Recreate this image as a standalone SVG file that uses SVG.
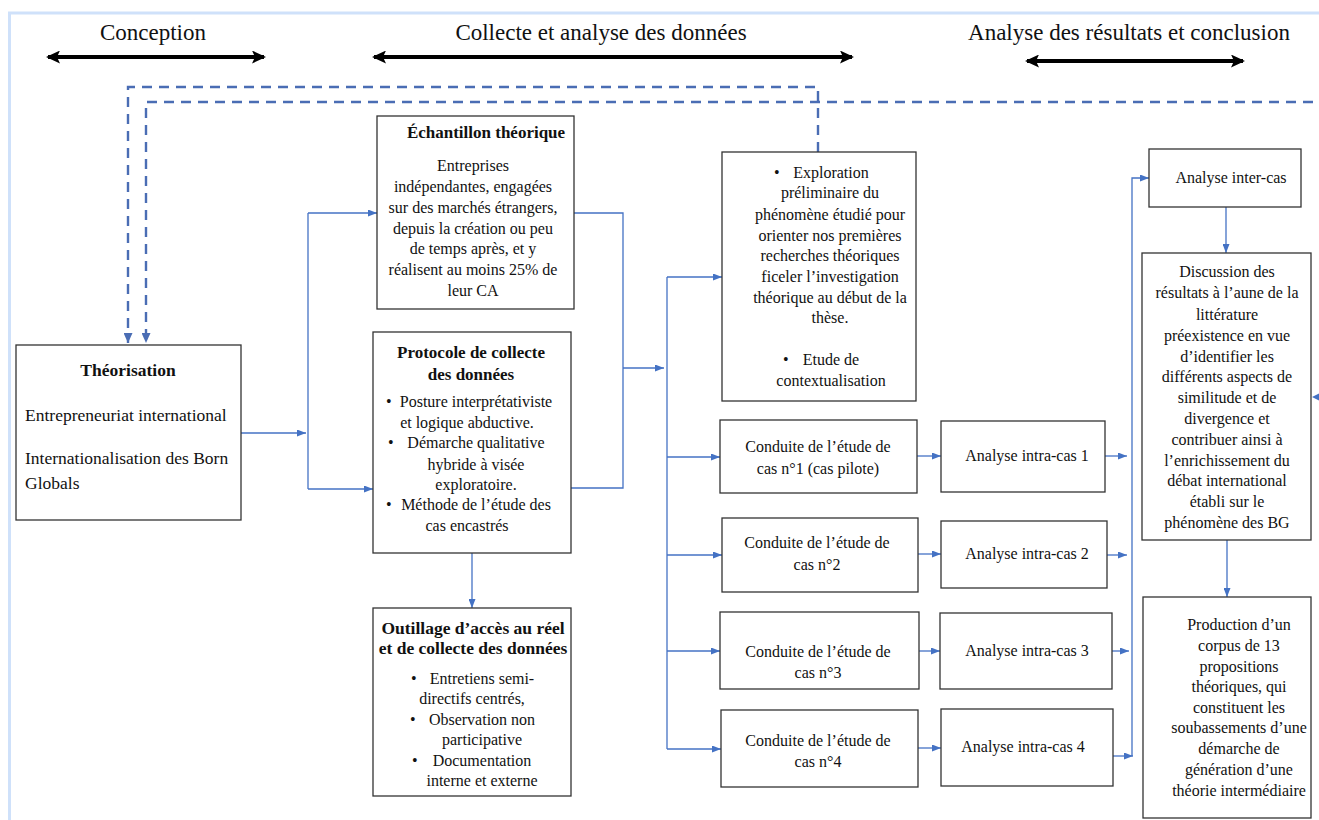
<svg xmlns="http://www.w3.org/2000/svg" width="1319" height="820" viewBox="0 0 1319 820">
<style>
text{font-family:"Liberation Serif","Times New Roman",serif;fill:#111;}
.h{font-size:23px;text-anchor:middle;}
.t{font-size:16px;text-anchor:middle;}
.l{font-size:17.5px;}
.b{font-size:17px;font-weight:bold;text-anchor:middle;}
.bul{font-size:16px;}
.box{fill:#fff;stroke:#333;stroke-width:1.3;}
.c{fill:none;stroke:#4472c4;stroke-width:1.3;marker-end:url(#a);}
.cn{fill:none;stroke:#4472c4;stroke-width:1.3;}
.d{fill:none;stroke:#4a6db4;stroke-width:2.4;stroke-dasharray:10 7;marker-end:url(#ad);}
.bk{stroke:#000;stroke-width:4;marker-start:url(#ab);marker-end:url(#ab);}
</style>
<defs>
<marker id="a" markerUnits="userSpaceOnUse" markerWidth="9" markerHeight="7" refX="9" refY="3.5" orient="auto"><path d="M0,0 L9,3.5 L0,7 Z" fill="#4472c4"/></marker>
<marker id="ad" markerUnits="userSpaceOnUse" markerWidth="10" markerHeight="9" refX="10" refY="4.5" orient="auto"><path d="M0,0 L10,4.5 L0,9 Z" fill="#4a6db4"/></marker>
<marker id="ab" markerUnits="userSpaceOnUse" markerWidth="14" markerHeight="13" refX="12" refY="6.5" orient="auto-start-reverse"><path d="M0,0 L14,6.5 L0,13 L3,6.5 Z" fill="#000"/></marker>
</defs>
<rect x="0" y="0" width="1319" height="820" fill="#fff"/>
<rect x="9.5" y="13" width="1400" height="900" fill="none" stroke="#cfe1fa" stroke-width="3"/>

<g id="header">
<text class="h" x="153" y="40">Conception</text>
<text class="h" x="601" y="40">Collecte et analyse des données</text>
<text class="h" x="1129" y="40">Analyse des résultats et conclusion</text>
<line class="bk" x1="48" y1="57" x2="264" y2="57"/>
<line class="bk" x1="374" y1="57" x2="852" y2="57"/>
<line class="bk" x1="1027" y1="61" x2="1243" y2="61"/>
</g>

<g id="connectors">
<path class="d" d="M818,152 V87 H128 V343"/>
<path class="d" d="M1330,102 H146 V343"/>
<path d="M1312,397 L1320,393 L1320,401 Z" fill="#4472c4"/>
<path class="c" d="M241,433 H306"/>
<path class="cn" d="M308,213 V489"/>
<path class="c" d="M308,213 H377"/>
<path class="c" d="M308,489 H373"/>
<path class="cn" d="M574,213 H623 V488 H571"/>
<path class="c" d="M623,368 H664"/>
<path class="c" d="M472,553 V608"/>
<path class="cn" d="M667,277 V749"/>
<path class="c" d="M667,277 H722"/>
<path class="c" d="M667,457 H720"/>
<path class="c" d="M667,555 H722"/>
<path class="c" d="M667,651 H720"/>
<path class="c" d="M667,749 H721"/>
<path class="c" d="M917,456 H941"/>
<path class="c" d="M918,554 H941"/>
<path class="c" d="M919,651 H940"/>
<path class="c" d="M918,748 H941"/>
<path class="c" d="M1105,456 H1127"/>
<path class="c" d="M1107,555 H1127"/>
<path class="c" d="M1112,651 H1129"/>
<path class="c" d="M1113,756 H1133"/>
<path class="c" d="M1132,756 V178 H1149"/>
<path class="c" d="M1226,207 V253"/>
<path class="c" d="M1227,540 V597"/>
</g>

<g id="theorisation">
<rect class="box" x="16" y="345" width="225" height="175"/>
<text class="b" x="128" y="376" style="font-size:17.5px">Théorisation</text>
<text class="l" x="25" y="421">Entrepreneuriat international</text>
<text class="l" x="25" y="464">Internationalisation des Born</text>
<text class="l" x="25" y="489">Globals</text>
</g>

<g id="echantillon">
<rect class="box" x="377" y="116" width="197" height="193"/>
<text class="b" x="486" y="138">Échantillon théorique</text>
<text class="t" x="473" y="171">Entreprises</text>
<text class="t" x="473" y="192">indépendantes, engagées</text>
<text class="t" x="473" y="213">sur des marchés étrangers,</text>
<text class="t" x="473" y="234">depuis la création ou peu</text>
<text class="t" x="473" y="254">de temps après, et y</text>
<text class="t" x="473" y="275">réalisent au moins 25% de</text>
<text class="t" x="473" y="296">leur CA</text>
</g>

<g id="protocole">
<rect class="box" x="373" y="332" width="198" height="221"/>
<text class="b" x="471" y="358">Protocole de collecte</text>
<text class="b" x="471" y="380">des données</text>
<text class="bul" x="386" y="407">•</text>
<text class="t" x="476" y="407">Posture interprétativiste</text>
<text class="t" x="467" y="428">et logique abductive.</text>
<text class="bul" x="388" y="448">•</text>
<text class="t" x="476" y="448">Démarche qualitative</text>
<text class="t" x="476" y="470">hybride à visée</text>
<text class="t" x="476" y="490">exploratoire.</text>
<text class="bul" x="386" y="510">•</text>
<text class="t" x="476" y="510">Méthode de l’étude des</text>
<text class="t" x="467" y="531">cas encastrés</text>
</g>

<g id="outillage">
<rect class="box" x="373" y="608" width="198" height="188"/>
<text class="b" x="473" y="634" style="font-size:17.5px">Outillage d’accès au réel</text>
<text class="b" x="473" y="654" style="font-size:17.5px">et de collecte des données</text>
<text class="bul" x="411" y="684">•</text>
<text class="t" x="482" y="684">Entretiens semi-</text>
<text class="t" x="472" y="704">directifs centrés,</text>
<text class="bul" x="410" y="725">•</text>
<text class="t" x="482" y="725">Observation non</text>
<text class="t" x="482" y="745">participative</text>
<text class="bul" x="412" y="766">•</text>
<text class="t" x="482" y="766">Documentation</text>
<text class="t" x="482" y="786">interne et externe</text>
</g>

<g id="exploration">
<rect class="box" x="722" y="152" width="194" height="249"/>
<text class="bul" x="774" y="178">•</text>
<text class="t" x="831" y="178">Exploration</text>
<text class="t" x="830" y="198">préliminaire du</text>
<text class="t" x="830" y="220">phénomène étudié pour</text>
<text class="t" x="830" y="241">orienter nos premières</text>
<text class="t" x="830" y="261">recherches théoriques</text>
<text class="t" x="830" y="282">ficeler l’investigation</text>
<text class="t" x="830" y="303">théorique au début de la</text>
<text class="t" x="830" y="323">thèse.</text>
<text class="bul" x="783" y="365">•</text>
<text class="t" x="831" y="365">Etude de</text>
<text class="t" x="831" y="386">contextualisation</text>
</g>

<g id="conduite1">
<rect class="box" x="720" y="420" width="197" height="73"/>
<text class="t" x="818" y="452">Conduite de l’étude de</text>
<text class="t" x="818" y="474">cas n°1 (cas pilote)</text>
</g>
<g id="conduite2">
<rect class="box" x="722" y="518" width="196" height="74"/>
<text class="t" x="817" y="548">Conduite de l’étude de</text>
<text class="t" x="817" y="570">cas n°2</text>
</g>
<g id="conduite3">
<rect class="box" x="720" y="612" width="199" height="77"/>
<text class="t" x="818" y="657">Conduite de l’étude de</text>
<text class="t" x="818" y="678">cas n°3</text>
</g>
<g id="conduite4">
<rect class="box" x="721" y="710" width="197" height="77"/>
<text class="t" x="818" y="746">Conduite de l’étude de</text>
<text class="t" x="818" y="767">cas n°4</text>
</g>

<g id="intra1">
<rect class="box" x="941" y="421" width="164" height="71"/>
<text class="t" x="1027" y="461">Analyse intra-cas 1</text>
</g>
<g id="intra2">
<rect class="box" x="941" y="521" width="166" height="67"/>
<text class="t" x="1027" y="559">Analyse intra-cas 2</text>
</g>
<g id="intra3">
<rect class="box" x="940" y="613" width="172" height="76"/>
<text class="t" x="1027" y="656">Analyse intra-cas 3</text>
</g>
<g id="intra4">
<rect class="box" x="941" y="709" width="172" height="77"/>
<text class="t" x="1023" y="752">Analyse intra-cas 4</text>
</g>

<g id="intercas">
<rect class="box" x="1149" y="149" width="152" height="58"/>
<text class="t" x="1231" y="183">Analyse inter-cas</text>
</g>

<g id="discussion">
<rect class="box" x="1142" y="253" width="169" height="287"/>
<text class="t" x="1227" y="277">Discussion des</text>
<text class="t" x="1227" y="298">résultats à l’aune de la</text>
<text class="t" x="1227" y="320">littérature</text>
<text class="t" x="1227" y="341">préexistence en vue</text>
<text class="t" x="1227" y="362">d’identifier les</text>
<text class="t" x="1227" y="382">différents aspects de</text>
<text class="t" x="1227" y="403">similitude et de</text>
<text class="t" x="1227" y="424">divergence et</text>
<text class="t" x="1227" y="445">contribuer ainsi à</text>
<text class="t" x="1227" y="466">l’enrichissement du</text>
<text class="t" x="1227" y="486">débat international</text>
<text class="t" x="1227" y="507">établi sur le</text>
<text class="t" x="1227" y="528">phénomène des BG</text>
</g>

<g id="production">
<rect class="box" x="1143" y="597" width="168" height="221"/>
<text class="t" x="1239" y="630">Production d’un</text>
<text class="t" x="1239" y="651">corpus de 13</text>
<text class="t" x="1239" y="672">propositions</text>
<text class="t" x="1239" y="692">théoriques, qui</text>
<text class="t" x="1239" y="713">constituent les</text>
<text class="t" x="1239" y="733">soubassements d’une</text>
<text class="t" x="1239" y="754">démarche de</text>
<text class="t" x="1239" y="775">génération d’une</text>
<text class="t" x="1239" y="796">théorie intermédiaire</text>
</g>
</svg>
